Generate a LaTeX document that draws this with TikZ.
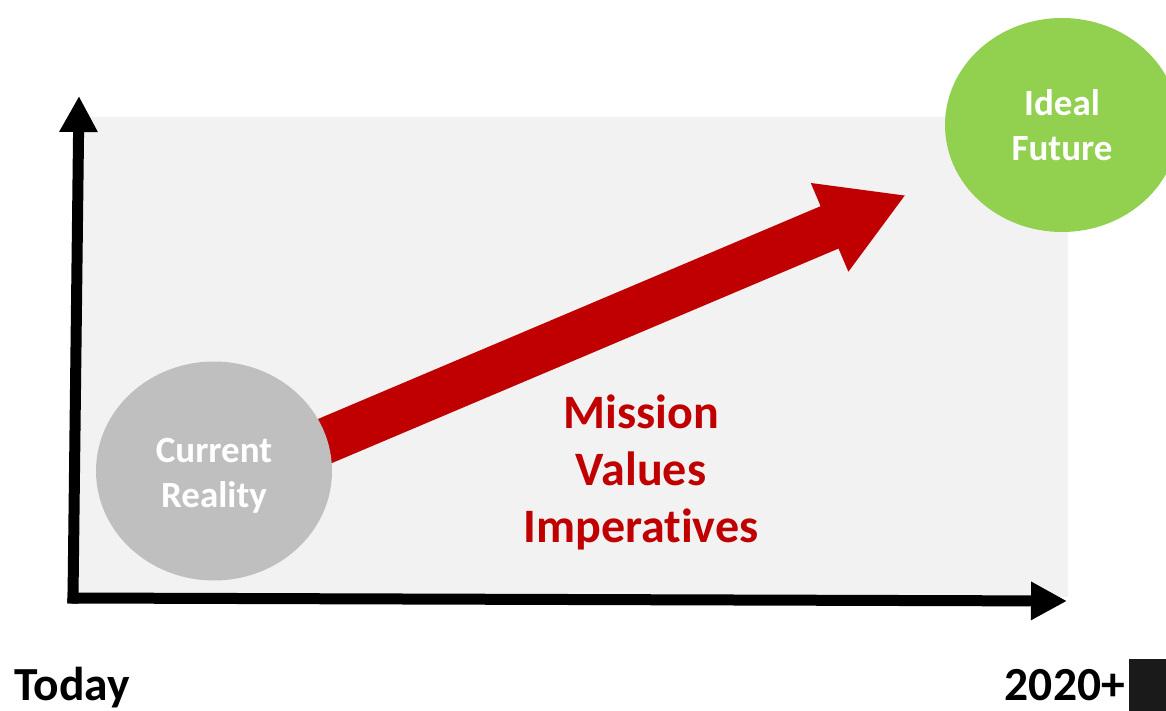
\documentclass[tikz,border=0pt]{standalone}
\usepackage{fontspec}
\setmainfont{Carlito}[Ligatures=NoCommon]
\usepackage{xcolor}
\definecolor{panelgray}{RGB}{242, 242, 242}
\definecolor{realitygray}{RGB}{191, 191, 191}
\definecolor{futuregreen}{RGB}{146, 208, 80}
\definecolor{missionred}{RGB}{192, 0, 0}
\definecolor{nearblack}{RGB}{26, 26, 26}
\usetikzlibrary{arrows.meta, positioning, shapes.geometric}
\pgfdeclarelayer{panel}
\pgfdeclarelayer{path}
\pgfsetlayers{panel,path,main}

\begin{document}
\begin{tikzpicture}[
        x=1pt, y=-1pt,
        every node/.style={font=\bfseries\fontsize{47.5}{57}\selectfont},
        state/.style={ellipse, inner sep=0pt, text=white, align=center, font=\bfseries\fontsize{37}{45}\selectfont},
        axis/.style={line width=11pt, line cap=rect, -{Triangle[length=36pt, width=36pt]}},
        bigarrow/.style={missionred, line width=46pt, -{Triangle[length=83pt, width=90pt]}}
    ]
        \useasboundingbox (0,0) rectangle (1166,711);

        % Panel
        \begin{pgfonlayer}{panel}
            \fill[panelgray] (75,117) rectangle (1068,597);
        \end{pgfonlayer}

        % Axes
        \coordinate (origin) at (73,598);
        \coordinate (ytip) at (79,96);
        \coordinate (xtip) at (1067,601);
        \draw[axis] (origin) -- (ytip);
        \draw[axis] (origin) -- (xtip);

        % States
        \node[state, fill=realitygray, minimum width=236pt, minimum height=219pt] (reality) at (214,471) {\rule{0pt}{34pt}Current\\Reality};
        \node[state, fill=futuregreen, minimum width=234pt, minimum height=214pt] (future) at (1062,125) {Ideal\\Future};

        % Path
        \coordinate (goal) at (906,195);
        \begin{pgfonlayer}{path}
            \draw[bigarrow] ([yshift=-17pt]reality.center) -- (goal);
        \end{pgfonlayer}
        \node[text=missionred, align=center, font=\bfseries\fontsize{48}{57}\selectfont] (drivers) at (641,472) {Mission\\Values\\Imperatives};

        % Time labels
        \node[anchor=base west, inner sep=0pt] (today) at (14,700) {Today};
        \node[anchor=base east, inner sep=0pt] (horizon) at (1125,700) {2020+};
        \fill[nearblack] (1129,659) rectangle (1166,711);

    \end{tikzpicture}
\end{document}
